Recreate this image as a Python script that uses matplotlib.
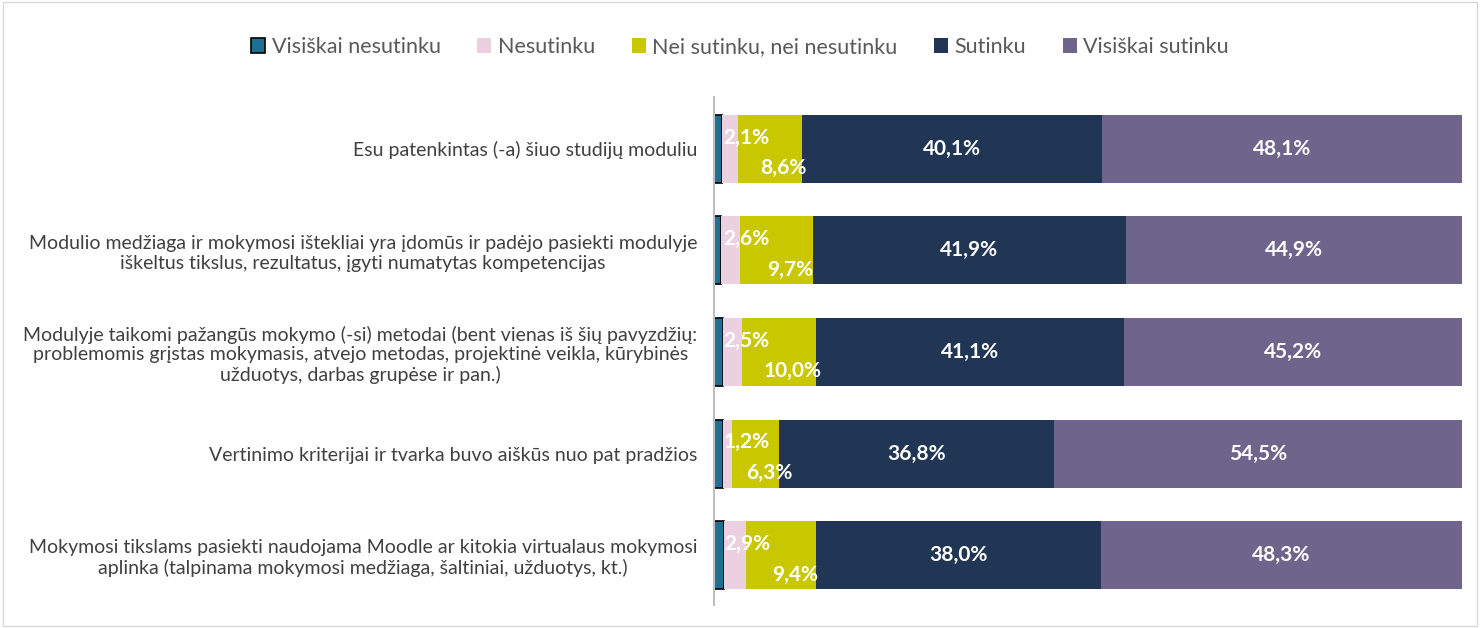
import matplotlib.pyplot as plt
from matplotlib.patches import Rectangle
import numpy as np

categories = [
    "Esu patenkintas (-a) šiuo studijų moduliu",
    "Modulio medžiaga ir mokymosi ištekliai yra įdomūs ir padėjo pasiekti modulyje\niškeltus tikslus, rezultatus, įgyti numatytas kompetencijas",
    "Modulyje taikomi pažangūs mokymo (-si) metodai (bent vienas iš šių pavyzdžių:\nproblemomis grįstas mokymasis, atvejo metodas, projektinė veikla, kūrybinės\nužduotys, darbas grupėse ir pan.)",
    "Vertinimo kriterijai ir tvarka buvo aiškūs nuo pat pradžios",
    "Mokymosi tikslams pasiekti naudojama Moodle ar kitokia virtualaus mokymosi\naplinka (talpinama mokymosi medžiaga, šaltiniai, užduotys, kt.)",
]
series_names = ["Visiškai nesutinku", "Nesutinku", "Nei sutinku, nei nesutinku",
                "Sutinku", "Visiškai sutinku"]
visiskai_nesutinku = [1.1, 0.9, 1.2, 1.2, 1.4]
nesutinku = [2.1, 2.6, 2.5, 1.2, 2.9]
nei = [8.6, 9.7, 10.0, 6.3, 9.4]
sutinku = [40.1, 41.9, 41.1, 36.8, 38.0]
visiskai_sutinku = [48.1, 44.9, 45.2, 54.5, 48.3]

colors = ["#1F6F95", "#EBD1DF", "#C9C800", "#203654", "#6F658C"]

plt.rcParams['font.family'] = ['Lato', 'DejaVu Sans']

fig = plt.figure(figsize=(14.8, 6.28), dpi=100)
ax = fig.add_axes([714/1480, 1-605/628, (1462-714)/1480, (605-97)/628])

data = [visiskai_nesutinku, nesutinku, nei, sutinku, visiskai_sutinku]
y = np.arange(len(categories))
left = np.zeros(len(categories))
h = 0.67
for i, vals in enumerate(data):
    vals = np.array(vals)
    if i == 0:
        ax.barh(y, vals, left=left, height=h, color=colors[i], edgecolor="black",
                linewidth=1.2, label=series_names[i])
    else:
        ax.barh(y, vals, left=left, height=h, color=colors[i], label=series_names[i])
    for j, v in enumerate(vals):
        c = left[j] + v / 2
        txt = f"{v:.1f}%".replace(".", ",")
        if i == 1:
            ax.text(max(c + 1.6, 4.3), y[j] - 0.11, txt, ha="center", va="center",
                    color="white", fontsize=15, fontweight="bold")
        elif i == 2:
            ax.text(c + 1.8, y[j] + 0.19, txt, ha="center", va="center",
                    color="white", fontsize=15, fontweight="bold")
        elif i >= 3:
            ax.text(c, y[j], txt, ha="center", va="center",
                    color="white", fontsize=15, fontweight="bold")
    left += vals

ax.set_xlim(0, 100)
ax.set_ylim(4.49, -0.51)
ax.set_yticks(y)
ax.set_yticklabels(categories, fontsize=14, color="#404040", multialignment="center")
ax.tick_params(axis="y", length=0, pad=12)
ax.set_xticks([])
for s in ["top", "right", "bottom"]:
    ax.spines[s].set_visible(False)
ax.spines["left"].set_color("#BFBFBF")
ax.spines["left"].set_linewidth(1.5)

leg = fig.legend(loc="center", bbox_to_anchor=(0.5, 1-47/628), ncol=5, frameon=False,
                 fontsize=15.5, handlelength=0.65, handleheight=0.65, handletextpad=0.3,
                 columnspacing=1.7)
for t in leg.get_texts():
    t.set_color("#595959")

fig.patches.append(Rectangle((0.002, 0.003), 0.996, 0.994, transform=fig.transFigure,
                             fill=False, edgecolor="#D9D9D9", linewidth=1))

fig.savefig("out.png", dpi=100)
